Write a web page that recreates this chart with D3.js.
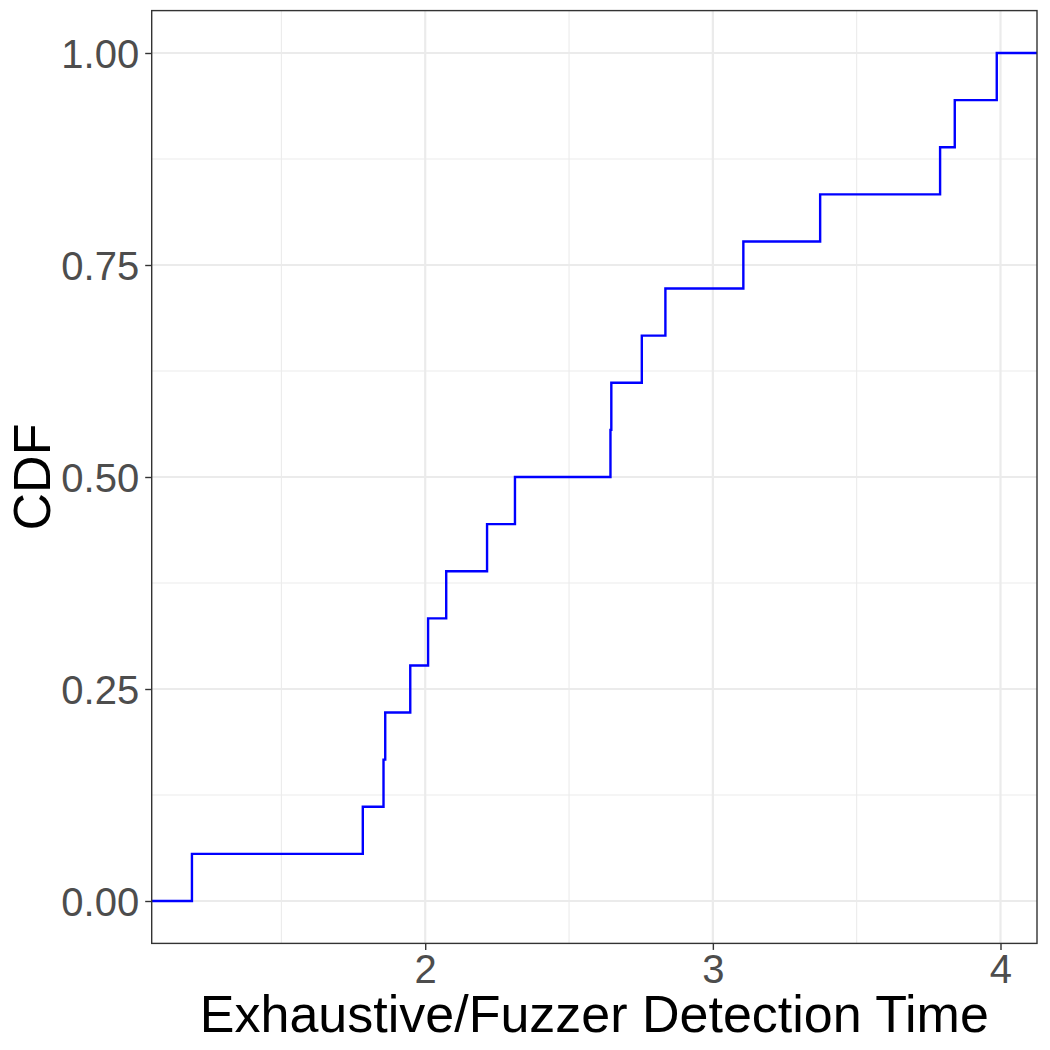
<!DOCTYPE html>
<html>
<head>
<meta charset="utf-8">
<script src="https://cdn.jsdelivr.net/npm/d3@7"></script>
<style>
  body { margin: 0; background: #fff; }
  svg { display: block; font-family: "Liberation Sans", Arial, sans-serif; }
</style>
</head>
<body>
<div class="graph"></div>
<script>
// detection time ratios (sorted), one per program
var detectTimes = [1.189, 1.783, 1.855, 1.861, 1.948, 2.010, 2.073, 2.215, 2.312,
                   2.644, 2.647, 2.753, 2.835, 3.106, 3.373, 3.790, 3.841, 3.987];
var xTicks = [2, 3, 4];
var xMinor = [1.5, 2.5, 3.5];
var yTicks = [0, 0.25, 0.5, 0.75, 1];
var yMinor = [0.125, 0.375, 0.625, 0.875];
var xTitle = "Exhaustive/Fuzzer Detection Time";
var yTitle = "CDF";

var W = 1050, H = 1050;
var margin = { top: 10.6, right: 13, bottom: 106.6, left: 151.7 };
var width = W - margin.left - margin.right;
var height = H - margin.top - margin.bottom;

var svg = d3.select(".graph").append("svg")
    .attr("width", W)
    .attr("height", H);

// ecdf points
var n = detectTimes.length;
var ecdf = detectTimes.map(function (d, i) {
  return { x: d, y: (i + 1) / n };
});

// ggplot style 5% expansion
var xext = d3.extent(detectTimes);
var xpad = (xext[1] - xext[0]) * 0.05;
var x = d3.scaleLinear().domain([xext[0] - xpad, xext[1] + xpad]).range([0, width]);
var y = d3.scaleLinear().domain([-0.05, 1.05]).range([height, 0]);

var g = svg.append("g").attr("transform", "translate(" + margin.left + "," + margin.top + ")");

// grid lines
g.append("g").selectAll("line.xminor").data(xMinor).enter().append("line")
  .attr("x1", function (d) { return x(d); }).attr("x2", function (d) { return x(d); })
  .attr("y1", 0).attr("y2", height)
  .attr("stroke", "#EBEBEB").attr("stroke-width", 1.1);
g.append("g").selectAll("line.yminor").data(yMinor).enter().append("line")
  .attr("y1", function (d) { return y(d); }).attr("y2", function (d) { return y(d); })
  .attr("x1", 0).attr("x2", width)
  .attr("stroke", "#EBEBEB").attr("stroke-width", 1.1);
g.append("g").selectAll("line.xmajor").data(xTicks).enter().append("line")
  .attr("x1", function (d) { return x(d); }).attr("x2", function (d) { return x(d); })
  .attr("y1", 0).attr("y2", height)
  .attr("stroke", "#EBEBEB").attr("stroke-width", 2.2);
g.append("g").selectAll("line.ymajor").data(yTicks).enter().append("line")
  .attr("y1", function (d) { return y(d); }).attr("y2", function (d) { return y(d); })
  .attr("x1", 0).attr("x2", width)
  .attr("stroke", "#EBEBEB").attr("stroke-width", 2.2);

// step line, padded to the panel edges like stat_ecdf
var pts = [{ x: x.domain()[0], y: 0 }].concat(ecdf).concat([{ x: x.domain()[1], y: 1 }]);
var line = d3.line()
  .x(function (d) { return x(d.x); })
  .y(function (d) { return y(d.y); })
  .curve(d3.curveStepAfter);
g.append("path").datum(pts)
  .attr("d", line)
  .attr("fill", "none")
  .attr("stroke", "#0000FF")
  .attr("stroke-width", 2.4);

// panel border
g.append("rect")
  .attr("width", width).attr("height", height)
  .attr("fill", "none").attr("stroke", "#333333").attr("stroke-width", 1.4);

// axes
var xAxis = g.append("g").attr("transform", "translate(0," + height + ")")
  .call(d3.axisBottom(x).tickValues(xTicks).tickSize(6.5).tickPadding(4).tickFormat(d3.format("d")));
var yAxis = g.append("g")
  .call(d3.axisLeft(y).tickValues(yTicks).tickSize(6.5).tickPadding(6).tickFormat(d3.format(".2f")));

[xAxis, yAxis].forEach(function (a) {
  a.select(".domain").remove();
  a.selectAll(".tick line").attr("stroke", "#333333").attr("stroke-width", 1.4);
  a.selectAll(".tick text")
    .attr("fill", "#4D4D4D")
    .style("font-size", "40px")
    .style("font-family", "'Liberation Sans', Arial, sans-serif");
});
xAxis.selectAll(".tick text").attr("dy", null).attr("y", 39.5);
yAxis.selectAll(".tick text").attr("dy", "0.35em");

// titles
svg.append("text")
  .attr("x", margin.left + width / 2)
  .attr("y", 1032)
  .attr("text-anchor", "middle")
  .style("font-size", "52px")
  .attr("fill", "#000")
  .text(xTitle);

svg.append("text")
  .attr("transform", "translate(50," + (margin.top + height / 2) + ") rotate(-90)")
  .attr("text-anchor", "middle")
  .style("font-size", "52px")
  .attr("fill", "#000")
  .text(yTitle);
</script>
</body>
</html>
